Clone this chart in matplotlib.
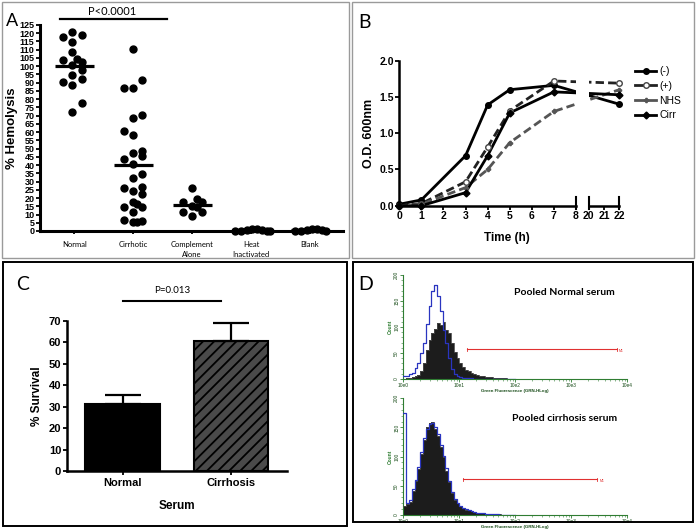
import numpy as np
import matplotlib.pyplot as plt
from matplotlib.lines import Line2D
from matplotlib.patches import Rectangle

W, H = 699, 529

# ---- A: % hemolysis
groups_a = ['Normal', 'Cirrhotic', 'Complement\nAlone', 'Heat\nInactivated', 'Blank']
normal = [118, 120.5, 119, 114.5, 108.5, 103.5, 104.5, 102.5, 100.7, 97.5, 94.5, 92.2, 90.6, 88.5, 77.5, 72.5]
normal_dx = [-0.19, -0.03, 0.13, -0.03, -0.03, -0.19, 0.05, 0.13, -0.03, 0.13, -0.03, 0.13, -0.19, -0.03, 0.13, -0.03]
cirrhotic = [110.4, 86.6, 86.6, 91.4, 68.4, 70.4, 60.7, 58.5, 48.7, 47.1, 45.5, 43.5, 40.5, 34.6,
             32.2, 26.3, 26.5, 24.3, 22.5, 17.6, 16.4, 14.4, 14.4, 11.3, 6.5, 5.5, 5.5, 6.0]
cirrhotic_dx = [0, -0.16, 0, 0.15, 0, 0.15, -0.16, 0, 0.15, 0, 0.15, -0.16, 0, 0.15,
                0, -0.16, 0.15, 0, 0.15, 0, 0.07, 0.15, -0.16, 0, -0.16, 0, 0.07, 0.15]
complement = [26.3, 17.6, 19.2, 17.6, 15.2, 14.4, 11.5, 11.3, 9.3]
complement_dx = [0, -0.16, 0.08, 0.17, 0, 0.08, -0.16, 0.17, 0]
heat = [0, 0, 0.5, 1, 1, 0.5, 0, 0.3]
heat_dx = [-0.27, -0.17, -0.07, 0.02, 0.1, 0.18, 0.27, 0.33]
blank = [0, 0, 0.5, 1, 1, 0.5, 0]
blank_dx = [-0.25, -0.15, -0.05, 0.04, 0.12, 0.2, 0.28]

# ---- B: growth curves
hours = [0, 1, 3, 4, 5, 7, 22]
od_neg = [0.02, 0.08, 0.69, 1.39, 1.60, 1.66, 1.40]
od_pos = [0.0, 0.03, 0.33, 0.81, 1.31, 1.72, 1.69]
od_nhs = [0.0, 0.02, 0.25, 0.50, 0.87, 1.30, 1.60]
od_cirr = [0.0, 0.0, 0.18, 0.69, 1.28, 1.57, 1.53]

# ---- C: survival
serum = ['Normal', 'Cirrhosis']
survival = [31.1, 60.7]
survival_err = [4.4, 8.5]

# ---- D: flow histograms (counts per 0.05-decade channel from 10^0)
upper_sample = [0, 1, 2, 3, 5, 8, 15, 30, 55, 75, 88, 96, 108, 103, 110, 95, 88, 70, 52, 40,
                30, 24, 18, 15, 11, 9, 8, 6, 5, 4, 4, 3, 2, 2, 1, 1, 1, 0, 0, 0]
upper_control = [5, 6, 10, 12, 22, 31, 50, 70, 105, 140, 170, 180, 160, 130, 95, 70, 40, 20, 9, 5,
                 3, 2, 2, 1, 1, 0, 0, 0, 0, 0, 0, 0, 0, 0, 0, 0, 0, 0, 0, 0]
lower_sample = [15, 18, 23, 41, 58, 79, 105, 129, 150, 158, 160, 147, 135, 117, 99, 76, 56, 38, 26, 20,
                15, 12, 9, 8, 6, 5, 4, 3, 3, 2, 2, 1, 1, 1, 1, 0, 0, 0, 0, 0]
lower_control = [175, 20, 25, 45, 60, 82, 108, 132, 148, 156, 158, 150, 138, 120, 101, 80, 58, 40, 28, 21,
                 16, 12, 10, 8, 6, 5, 4, 3, 3, 2, 2, 1, 1, 1, 0, 0, 0, 0, 0, 0]
gate_upper = [10**1.14, 10**3.81]
gate_lower = [10**1.07, 10**3.46]

plt.rcParams['font.family'] = ['Liberation Sans', 'DejaVu Sans']
LETTER = ['Lato', 'DejaVu Sans']

fig = plt.figure(figsize=(W / 100, H / 100), dpi=100)


def ax_px(x0, y0, x1, y1):
    return fig.add_axes([x0 / W, 1 - y1 / H, (x1 - x0) / W, (y1 - y0) / H])


def box(x0, y0, x1, y1, color, lw):
    fig.add_artist(Rectangle((x0 / W, 1 - y1 / H), (x1 - x0) / W, (y1 - y0) / H,
                             transform=fig.transFigure, fill=False, ec=color, lw=lw))


def letter(x, y, s, size=14):
    fig.text(x / W, 1 - y / H, s, fontsize=size, family=LETTER, va='center', ha='left')


box(2, 2, 349, 258, '#9a9a9a', 1)
box(352, 2, 694, 258, '#9a9a9a', 1)
box(3, 262, 347, 526, 'black', 1.4)
box(353, 262, 693, 522, 'black', 1.4)

# ================= Panel A
ax = ax_px(40, 25, 343, 231)
series_a = [(normal, normal_dx), (cirrhotic, cirrhotic_dx), (complement, complement_dx),
            (heat, heat_dx), (blank, blank_dx)]
for i, (vals, dx) in enumerate(series_a):
    ax.plot(np.array(dx) + i, vals, 'o', color='black', ms=5, clip_on=False, zorder=3)
    ax.plot([i - 0.33, i + 0.33], [np.mean(vals)] * 2, color='black', lw=2.3,
            solid_capstyle='butt', clip_on=False, zorder=4)
ax.set_xlim(-0.58, 4.56)
ax.set_ylim(0, 125)
ax.set_yticks(np.arange(0, 126, 5))
ax.tick_params(axis='y', labelsize=6.5, width=1.3, length=3, pad=1)
for t in ax.get_yticklabels():
    t.set_fontweight('bold')
ax.set_xticks(range(5))
ax.set_xticklabels(groups_a, family=LETTER, fontsize=5.5, ha='center', va='top',
                   linespacing=1.5)
ax.tick_params(axis='x', width=1.3, length=2, pad=5)
ax.set_ylabel('% Hemolysis', fontsize=9.5, fontweight='bold', labelpad=1)
for s in ['top', 'right']:
    ax.spines[s].set_visible(False)
for s in ['left', 'bottom']:
    ax.spines[s].set_linewidth(2.2)
ax.plot([-0.24, 1.58], [128.6, 128.6], color='black', lw=1.6, clip_on=False)
ax.text(0.64, 130.0, 'P<0.0001', family=LETTER, fontsize=8, ha='center', va='bottom')
letter(6, 21, 'A', size=13)

# ================= Panel B (broken x axis)
GAP_U = 0.575
RATIO = 0.693


def to_u(t):
    t = np.asarray(t, dtype=float)
    return np.where(t <= 8, t, 8 + GAP_U + (t - 20) * RATIO)


u = to_u(hours)
axl = ax_px(399.3, 60.7, 576, 205.7)
axr = ax_px(588.7, 60.7, 619.3, 205.7)
styles = [
    dict(label='(-)', y=od_neg, color='black', ls='-', marker='o', mfc='black', mec='black', ms=4),
    dict(label='(+)', y=od_pos, color='#222222', ls=(0, (3, 1.5)), marker='o', mfc='white', mec='#444444', ms=4),
    dict(label='NHS', y=od_nhs, color='#555555', ls=(0, (3, 1.5)), marker='P', mfc='#555555', mec='#555555', ms=3),
    dict(label='Cirr', y=od_cirr, color='black', ls='-', marker='D', mfc='black', mec='black', ms=3.5),
]
handles = []
for st in styles:
    y = np.array(st['y'])
    for a, keep in ((axl, u <= 8), (axr, u > 8)):
        a.plot(u, y, color=st['color'], ls=st['ls'], lw=2.0, zorder=2)
        a.plot(u[keep], y[keep], ls='none', marker=st['marker'], mfc=st['mfc'], mec=st['mec'],
               ms=st['ms'], mew=1, clip_on=False, zorder=3)
    handles.append(Line2D([], [], color=st['color'], ls='-', lw=2.0, marker=st['marker'],
                          mfc=st['mfc'], mec=st['mec'], ms=st['ms']))
axl.set_xlim(0, 8)
axr.set_xlim(to_u(20), to_u(22))
for a in (axl, axr):
    a.set_ylim(0, 2.0)
    for s in ['top', 'right']:
        a.spines[s].set_visible(False)
    a.spines['bottom'].set_linewidth(1.8)
    a.tick_params(axis='x', labelsize=7.5, width=1.3, length=3, pad=1)
    a.plot([1, 1], [-0.02, 0.06], transform=a.transAxes, color='black', lw=1.5, clip_on=False)
axr.plot([0, 0], [-0.02, 0.06], transform=axr.transAxes, color='black', lw=1.5, clip_on=False)
axr.spines['left'].set_visible(False)
axr.set_yticks([])
axr.set_xticks(to_u([20, 21, 22]))
axr.set_xticklabels(['20', '21', '22'], fontweight='bold', fontsize=7.5)
axl.set_xticks(range(9))
axl.set_xticklabels([str(i) for i in range(9)], fontweight='bold', fontsize=7.5)
axl.spines['left'].set_linewidth(1.8)
axl.set_yticks([0, 0.5, 1.0, 1.5, 2.0])
axl.set_yticklabels(['0.0', '0.5', '1.0', '1.5', '2.0'], fontweight='bold', fontsize=7.5)
axl.tick_params(axis='y', width=1.3, length=3, pad=1)
axl.set_ylabel('O.D. 600nm', fontsize=9, fontweight='bold', labelpad=3)
fig.text(507 / W, 1 - 238 / H, 'Time (h)', fontsize=8.5, fontweight='bold', ha='center', va='center')
fig.legend(handles, [st['label'] for st in styles], loc='upper left',
           bbox_to_anchor=(631 / W, 1 - 62 / H), frameon=False, fontsize=7.5,
           handlelength=2.0, handletextpad=0.3, labelspacing=0.45, borderaxespad=0)
letter(358, 23, 'B')

# ================= Panel C
axc = ax_px(66.7, 321, 287.3, 471)
xc = np.arange(len(serum))
plt.rcParams['hatch.linewidth'] = 1.3
bars = axc.bar(xc, survival, width=0.69, color=['black', '#4a4a4a'], edgecolor='black', lw=1.5)
bars[1].set_hatch('///')
axc.errorbar(xc, survival, yerr=[[0, 0], survival_err], fmt='none', ecolor='black',
             elinewidth=1.6, capsize=13, capthick=1.6)
axc.set_xlim(-0.515, 1.52)
axc.set_ylim(0, 70)
axc.set_yticks(range(0, 71, 10))
axc.set_xticks(xc)
axc.set_xticklabels(serum, fontweight='bold', fontsize=8)
axc.tick_params(axis='y', labelsize=8, width=1.3, length=3, pad=1)
axc.tick_params(axis='x', width=1.3, length=3, pad=2)
for t in axc.get_yticklabels():
    t.set_fontweight('bold')
for s in ['top', 'right']:
    axc.spines[s].set_visible(False)
for s in ['left', 'bottom']:
    axc.spines[s].set_linewidth(1.8)
axc.set_ylabel('% Survival', fontsize=8.5, fontweight='bold', labelpad=4)
axc.set_xlabel('Serum', fontsize=8.5, fontweight='bold', labelpad=9)
axc.plot([0, 0.91], [79.5, 79.5], color='black', lw=1.5, clip_on=False)
axc.text(0.455, 82, 'P=0.013', family=LETTER, fontsize=7, ha='center', va='bottom')
letter(16, 285, 'C')

# ================= Panel D
edges = 10 ** (np.arange(len(upper_sample) + 1) * 0.05)
GREEN = '#2f7d32'
for (y0, y1, sample, control, gate, gate_y, title) in [
        (275, 379, upper_sample, upper_control, gate_upper, 57, 'Pooled Normal serum'),
        (398.3, 515, lower_sample, lower_control, gate_lower, 61, 'Pooled cirrhosis serum')]:
    axd = ax_px(403.3, y0, 627.3, y1)
    s_ext = np.r_[sample, sample[-1]]
    c_ext = np.r_[control, control[-1]]
    axd.fill_between(edges, s_ext, step='post', color='#1c1c1c', lw=0, zorder=2)
    axd.step(edges, s_ext, where='post', color='#4a4a4a', lw=0.6, zorder=3)
    axd.step(edges, c_ext, where='post', color='#2a35c0', lw=0.9, zorder=4)
    axd.set_xscale('log')
    axd.set_xlim(1, 1e4)
    axd.set_ylim(0, 200)
    axd.plot(gate, [gate_y, gate_y], color='#e03030', lw=0.8, zorder=5)
    for gx in gate:
        axd.plot([gx, gx], [gate_y - 3, gate_y + 3], color='#e03030', lw=0.6, zorder=5)
    axd.text(gate[1] * 1.1, gate_y - 3, 'M1', color='#e03030', fontsize=2.5, va='center')
    axd.set_xticks([1, 10, 100, 1000, 10000])
    axd.set_xticklabels(['10e0', '10e1', '10e2', '10e3', '10e4'])
    axd.set_yticks([0, 50, 100, 150, 200])
    axd.set_yticklabels(['0', '50', '100', '150', '200'], rotation=90, va='center')
    axd.tick_params(axis='both', which='major', labelsize=3.5, length=2, width=0.6,
                    color=GREEN, labelcolor='#1a4d1a', pad=1)
    axd.tick_params(axis='x', which='minor', length=1.2, width=0.4, color=GREEN)
    axd.yaxis.set_minor_locator(plt.MultipleLocator(10))
    axd.tick_params(axis='y', which='minor', length=1.2, width=0.4, color=GREEN)
    for s in ['top', 'right']:
        axd.spines[s].set_visible(False)
    for s in ['left', 'bottom']:
        axd.spines[s].set_color(GREEN)
        axd.spines[s].set_linewidth(0.8)
    axd.set_ylabel('Count', fontsize=3.5, fontweight='bold', color=GREEN, labelpad=1)
    axd.set_xlabel('Green Fluorescence (GRN-HLog)', fontsize=3.2, fontweight='bold',
                   color='#1a4d1a', labelpad=0.5)
    axd.text(0.72, 0.83, title, transform=axd.transAxes, family=LETTER, fontsize=7.5,
             fontweight='bold', ha='center', va='center')
letter(358, 285, 'D')

fig.savefig('out.png', dpi=100)
